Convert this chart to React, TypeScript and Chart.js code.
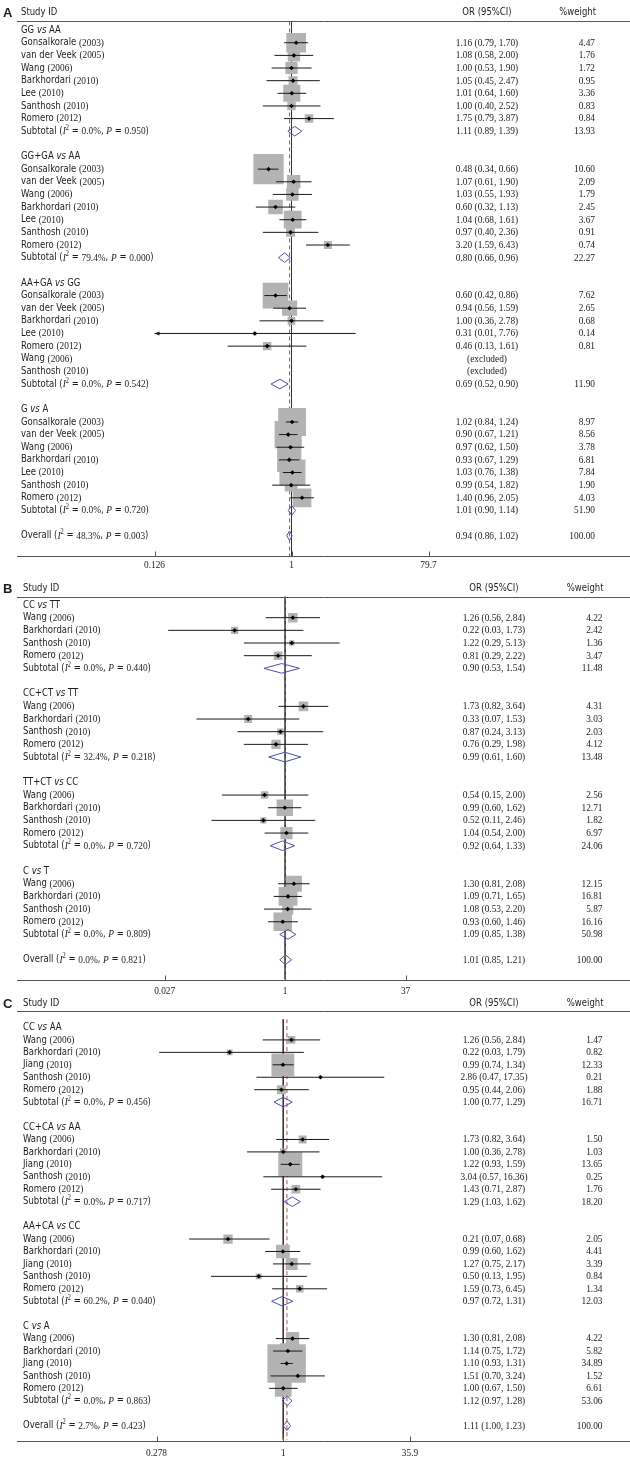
import React, { useEffect, useRef } from 'react';
import { Chart, registerables } from 'chart.js';

Chart.register(...registerables);

// ================= DATA: panel A =================
const A_SECTIONS = [['GG', 'AA'], ['GG+GA', 'AA'], ['AA+GA', 'GG'], ['G', 'A']];
const A_STUDIES = [
  ['Gonsalkorale (2003)', 'van der Veek (2005)', 'Wang (2006)', 'Barkhordari (2010)', 'Lee (2010)', 'Santhosh (2010)', 'Romero (2012)'],
  ['Gonsalkorale (2003)', 'van der Veek (2005)', 'Wang (2006)', 'Barkhordari (2010)', 'Lee (2010)', 'Santhosh (2010)', 'Romero (2012)'],
  ['Gonsalkorale (2003)', 'van der Veek (2005)', 'Barkhordari (2010)', 'Lee (2010)', 'Romero (2012)', 'Wang (2006)', 'Santhosh (2010)'],
  ['Gonsalkorale (2003)', 'van der Veek (2005)', 'Wang (2006)', 'Barkhordari (2010)', 'Lee (2010)', 'Santhosh (2010)', 'Romero (2012)'],
];
const A_OR = [
  [1.16, 1.08, 1.0, 1.05, 1.01, 1.0, 1.75],
  [0.48, 1.07, 1.03, 0.6, 1.04, 0.97, 3.2],
  [0.6, 0.94, 1.0, 0.31, 0.46, null, null],
  [1.02, 0.9, 0.97, 0.93, 1.03, 0.99, 1.4],
];
const A_LO = [
  [0.79, 0.58, 0.53, 0.45, 0.64, 0.4, 0.79],
  [0.34, 0.61, 0.55, 0.32, 0.68, 0.4, 1.59],
  [0.42, 0.56, 0.36, 0.01, 0.13, null, null],
  [0.84, 0.67, 0.62, 0.67, 0.76, 0.54, 0.96],
];
const A_HI = [
  [1.7, 2.0, 1.9, 2.47, 1.6, 2.52, 3.87],
  [0.66, 1.9, 1.93, 1.13, 1.61, 2.36, 6.43],
  [0.86, 1.59, 2.78, 7.76, 1.61, null, null],
  [1.24, 1.21, 1.5, 1.29, 1.38, 1.82, 2.05],
];
const A_WEIGHT = [
  [4.47, 1.76, 1.72, 0.95, 3.36, 0.83, 0.84],
  [10.6, 2.09, 1.79, 2.45, 3.67, 0.91, 0.74],
  [7.62, 2.65, 0.68, 0.14, 0.81, null, null],
  [8.97, 8.56, 3.78, 6.81, 7.84, 1.9, 4.03],
];
const A_SUB_OR = [1.11, 0.8, 0.69, 1.01];
const A_SUB_LO = [0.89, 0.66, 0.52, 0.9];
const A_SUB_HI = [1.39, 0.96, 0.9, 1.14];
const A_SUB_WEIGHT = [13.93, 22.27, 11.9, 51.9];
const A_SUB_I2 = ['0.0%', '79.4%', '0.0%', '0.0%'];
const A_SUB_P = ['0.950', '0.000', '0.542', '0.720'];
const A_OVERALL = [0.94, 0.86, 1.02];
const A_OVERALL_WEIGHT = 100;
const A_OVERALL_I2 = '48.3%';
const A_OVERALL_P = '0.003';
const A_TICKS = [1 / 79.7, 1, 79.7];
const A_TICK_LABELS = ['0.126', '1', '79.7'];

// ================= DATA: panel B =================
const B_SECTIONS = [['CC', 'TT'], ['CC+CT', 'TT'], ['TT+CT', 'CC'], ['C', 'T']];
const B_NAMES = ['Wang (2006)', 'Barkhordari (2010)', 'Santhosh (2010)', 'Romero (2012)'];
const B_STUDIES = [B_NAMES, B_NAMES, B_NAMES, B_NAMES];
const B_OR = [
  [1.26, 0.22, 1.22, 0.81],
  [1.73, 0.33, 0.87, 0.76],
  [0.54, 0.99, 0.52, 1.04],
  [1.3, 1.09, 1.08, 0.93],
];
const B_LO = [
  [0.56, 0.03, 0.29, 0.29],
  [0.82, 0.07, 0.24, 0.29],
  [0.15, 0.6, 0.11, 0.54],
  [0.81, 0.71, 0.53, 0.6],
];
const B_HI = [
  [2.84, 1.73, 5.13, 2.22],
  [3.64, 1.53, 3.13, 1.98],
  [2.0, 1.62, 2.46, 2.0],
  [2.08, 1.65, 2.2, 1.46],
];
const B_WEIGHT = [
  [4.22, 2.42, 1.36, 3.47],
  [4.31, 3.03, 2.03, 4.12],
  [2.56, 12.71, 1.82, 6.97],
  [12.15, 16.81, 5.87, 16.16],
];
const B_SUB_OR = [0.9, 0.99, 0.92, 1.09];
const B_SUB_LO = [0.53, 0.61, 0.64, 0.85];
const B_SUB_HI = [1.54, 1.6, 1.33, 1.38];
const B_SUB_WEIGHT = [11.48, 13.48, 24.06, 50.98];
const B_SUB_I2 = ['0.0%', '32.4%', '0.0%', '0.0%'];
const B_SUB_P = ['0.440', '0.218', '0.720', '0.809'];
const B_OVERALL = [1.01, 0.85, 1.21];
const B_OVERALL_WEIGHT = 100;
const B_OVERALL_I2 = '0.0%';
const B_OVERALL_P = '0.821';
const B_TICKS = [1 / 37, 1, 37];
const B_TICK_LABELS = ['0.027', '1', '37'];

// ================= DATA: panel C =================
const C_SECTIONS = [['CC', 'AA'], ['CC+CA', 'AA'], ['AA+CA', 'CC'], ['C', 'A']];
const C_NAMES = ['Wang (2006)', 'Barkhordari (2010)', 'Jiang (2010)', 'Santhosh (2010)', 'Romero (2012)'];
const C_STUDIES = [C_NAMES, C_NAMES, C_NAMES, C_NAMES];
const C_OR = [
  [1.26, 0.22, 0.99, 2.86, 0.95],
  [1.73, 1.0, 1.22, 3.04, 1.43],
  [0.21, 0.99, 1.27, 0.5, 1.59],
  [1.3, 1.14, 1.1, 1.51, 1.0],
];
const C_LO = [
  [0.56, 0.03, 0.74, 0.47, 0.44],
  [0.82, 0.36, 0.93, 0.57, 0.71],
  [0.07, 0.6, 0.75, 0.13, 0.73],
  [0.81, 0.75, 0.93, 0.7, 0.67],
];
const C_HI = [
  [2.84, 1.79, 1.34, 17.35, 2.06],
  [3.64, 2.78, 1.59, 16.36, 2.87],
  [0.68, 1.62, 2.17, 1.95, 3.45],
  [2.08, 1.72, 1.31, 3.24, 1.5],
];
const C_WEIGHT = [
  [1.47, 0.82, 12.33, 0.21, 1.88],
  [1.5, 1.03, 13.65, 0.25, 1.76],
  [2.05, 4.41, 3.39, 0.84, 1.34],
  [4.22, 5.82, 34.89, 1.52, 6.61],
];
const C_SUB_OR = [1.0, 1.29, 0.97, 1.12];
const C_SUB_LO = [0.77, 1.03, 0.72, 0.97];
const C_SUB_HI = [1.29, 1.62, 1.31, 1.28];
const C_SUB_WEIGHT = [16.71, 18.2, 12.03, 53.06];
const C_SUB_I2 = ['0.0%', '0.0%', '60.2%', '0.0%'];
const C_SUB_P = ['0.456', '0.717', '0.040', '0.863'];
const C_OVERALL = [1.11, 1.0, 1.23];
const C_OVERALL_WEIGHT = 100;
const C_OVERALL_I2 = '2.7%';
const C_OVERALL_P = '0.423';
const C_TICKS = [1 / 35.9, 1, 35.9];
const C_TICK_LABELS = ['0.278', '1', '35.9'];
// text printed in the source table where it differs from the drawn interval
const C_PRINTED_CI: Record<string, string> = { '2,4': '1.59 (0.73, 6.45)' };

// ================= assembled panel tables =================
const PANEL_DATA = [
  {
    letter: 'A', sections: A_SECTIONS, studies: A_STUDIES, or: A_OR, lo: A_LO, hi: A_HI, weight: A_WEIGHT,
    subOr: A_SUB_OR, subLo: A_SUB_LO, subHi: A_SUB_HI, subWeight: A_SUB_WEIGHT, subI2: A_SUB_I2, subP: A_SUB_P,
    overall: A_OVERALL, overallWeight: A_OVERALL_WEIGHT, overallI2: A_OVERALL_I2, overallP: A_OVERALL_P,
    ticks: A_TICKS, tickLabels: A_TICK_LABELS, printed: {} as Record<string, string>,
  },
  {
    letter: 'B', sections: B_SECTIONS, studies: B_STUDIES, or: B_OR, lo: B_LO, hi: B_HI, weight: B_WEIGHT,
    subOr: B_SUB_OR, subLo: B_SUB_LO, subHi: B_SUB_HI, subWeight: B_SUB_WEIGHT, subI2: B_SUB_I2, subP: B_SUB_P,
    overall: B_OVERALL, overallWeight: B_OVERALL_WEIGHT, overallI2: B_OVERALL_I2, overallP: B_OVERALL_P,
    ticks: B_TICKS, tickLabels: B_TICK_LABELS, printed: {} as Record<string, string>,
  },
  {
    letter: 'C', sections: C_SECTIONS, studies: C_STUDIES, or: C_OR, lo: C_LO, hi: C_HI, weight: C_WEIGHT,
    subOr: C_SUB_OR, subLo: C_SUB_LO, subHi: C_SUB_HI, subWeight: C_SUB_WEIGHT, subI2: C_SUB_I2, subP: C_SUB_P,
    overall: C_OVERALL, overallWeight: C_OVERALL_WEIGHT, overallI2: C_OVERALL_I2, overallP: C_OVERALL_P,
    ticks: C_TICKS, tickLabels: C_TICK_LABELS, printed: C_PRINTED_CI,
  },
];

// ================= layout / style =================
const LAYOUT = [
  { top: 0, height: 580, headerY: 12.7, lineY: 21, row0: 29.7, rowH: 12.65, axisY: 556, labelY: 565.5,
    plotL: 154.5, plotR: 428.5, labelX: 21, orX: 487, wtX: 595, boxK: 9.3 },
  { top: 570, height: 432, headerY: 588.5, lineY: 596.5, row0: 605, rowH: 12.67, axisY: 979.5, labelY: 991.5,
    plotL: 164.7, plotR: 405.6, labelX: 23, orX: 494, wtX: 602.5, boxK: 4.6 },
  { top: 992, height: 475, headerY: 1003.5, lineY: 1011, row0: 1019.5, rowH: 12.72, axisY: 1441, labelY: 1453.5,
    plotL: 156.5, plotR: 410, labelX: 23, orX: 494, wtX: 602.5, boxK: 6.5 },
];

const W = 630;
const SX = 0.85;
const SANS = '"DejaVu Sans", sans-serif';
const SERIF = '"Liberation Serif", serif';
const F_SANS = `10px ${SANS}`;
const F_SANS_IT = `italic 10px ${SANS}`;
const F_SERIF = `11px ${SERIF}`;
const F_SERIF_IT = `italic 11px ${SERIF}`;
const F_SUP = `7.5px ${SERIF}`;
const F_LETTER = `bold 13px "Liberation Sans", sans-serif`;
const TEXT = '#1c1c1c';
const RULE = '#555';
const BOX = '#b3b3b3';
const CI = '#1a1a1a';
const DIAMOND = '#4b4fa3';
const DASH = '#a0564f';
const NULL_LINE = '#333';
const DH = 0.38;

type Seg = { t: string; f: string; dy?: number };

function fmt(v: number) {
  return v.toFixed(2);
}

function studySegs(name: string): Seg[] {
  const k = name.lastIndexOf(' (');
  return [{ t: name.slice(0, k + 1), f: F_SANS }, { t: name.slice(k + 1), f: F_SERIF }];
}

function statSegs(prefix: string, i2: string, p: string): Seg[] {
  return [
    { t: prefix + ' (', f: F_SANS },
    { t: 'I', f: F_SERIF_IT },
    { t: '2', f: F_SUP, dy: -3.5 },
    { t: ' = ', f: F_SANS },
    { t: i2, f: F_SERIF },
    { t: ', ', f: F_SANS },
    { t: 'P', f: F_SERIF_IT },
    { t: ' = ', f: F_SANS },
    { t: p, f: F_SERIF },
    { t: ')', f: F_SANS },
  ];
}

function drawSegs(ctx: CanvasRenderingContext2D, segs: Seg[], x: number, y: number, align: string, sx: number) {
  let w = 0;
  for (const s of segs) {
    ctx.font = s.f;
    w += ctx.measureText(s.t).width;
  }
  let cx = align === 'left' ? 0 : align === 'center' ? -w / 2 : -w;
  ctx.save();
  ctx.translate(x, y);
  ctx.scale(sx, 1);
  ctx.textBaseline = 'middle';
  ctx.textAlign = 'left';
  for (const s of segs) {
    ctx.font = s.f;
    ctx.fillText(s.t, cx, s.dy || 0);
    cx += ctx.measureText(s.t).width;
  }
  ctx.restore();
}

type Row = {
  kind: string;
  segs?: Seg[];
  or?: number;
  lo?: number;
  hi?: number;
  w?: number;
  ciText?: string;
  wtText?: string;
};

function buildRows(d: any): Row[] {
  const rows: Row[] = [];
  d.sections.forEach((sec: string[], g: number) => {
    rows.push({
      kind: 'section',
      segs: [{ t: sec[0] + ' ', f: F_SANS }, { t: 'vs', f: F_SANS_IT }, { t: ' ' + sec[1], f: F_SANS }],
    });
    d.studies[g].forEach((name: string, s: number) => {
      const or = d.or[g][s];
      if (or == null) {
        rows.push({ kind: 'excluded', segs: studySegs(name), ciText: '(excluded)', wtText: '' });
        return;
      }
      const lo = d.lo[g][s];
      const hi = d.hi[g][s];
      const key = g + ',' + s;
      const ciText = d.printed[key] ? d.printed[key] : `${fmt(or)} (${fmt(lo)}, ${fmt(hi)})`;
      rows.push({ kind: 'study', segs: studySegs(name), or, lo, hi, w: d.weight[g][s], ciText, wtText: fmt(d.weight[g][s]) });
    });
    rows.push({
      kind: 'subtotal',
      segs: statSegs('Subtotal', d.subI2[g], d.subP[g]),
      or: d.subOr[g], lo: d.subLo[g], hi: d.subHi[g], w: d.subWeight[g],
      ciText: `${fmt(d.subOr[g])} (${fmt(d.subLo[g])}, ${fmt(d.subHi[g])})`,
      wtText: fmt(d.subWeight[g]),
    });
    rows.push({ kind: 'blank' });
  });
  rows.push({
    kind: 'overall',
    segs: statSegs('Overall', d.overallI2, d.overallP),
    or: d.overall[0], lo: d.overall[1], hi: d.overall[2], w: d.overallWeight,
    ciText: `${fmt(d.overall[0])} (${fmt(d.overall[1])}, ${fmt(d.overall[2])})`,
    wtText: fmt(d.overallWeight),
  });
  return rows;
}

function ForestPanel({ d, L }: { d: any; L: any }) {
  const ref = useRef<HTMLCanvasElement | null>(null);

  useEffect(() => {
    const canvas = ref.current;
    if (!canvas) return;
    const rows = buildRows(d);
    const yMin = -(L.row0 - L.lineY) / L.rowH;
    const yMax = (L.axisY - L.row0) / L.rowH;
    const xMin = d.ticks[0];
    const xMax = d.ticks[d.ticks.length - 1];

    const boxes: any[] = [];
    const radii: number[] = [];
    const pts: any[] = [];
    const ci: any[] = [];
    const dia: any[] = [];
    rows.forEach((r, i) => {
      if (r.kind === 'study') {
        boxes.push({ x: r.or, y: i });
        radii.push((L.boxK * Math.sqrt(r.w as number)) / Math.SQRT2);
        pts.push({ x: r.or, y: i });
        ci.push({ x: r.lo, y: i }, { x: r.hi, y: i }, { x: null, y: null });
      } else if (r.kind === 'subtotal' || r.kind === 'overall') {
        dia.push(
          { x: r.lo, y: i }, { x: r.or, y: i - DH }, { x: r.hi, y: i }, { x: r.or, y: i + DH }, { x: r.lo, y: i },
          { x: null, y: null },
        );
      }
    });
    const overallOr = d.overall[0];

    const top = L.top;
    const textPlugin = {
      id: 'forestText',
      afterDraw(chart: any) {
        const ctx: CanvasRenderingContext2D = chart.ctx;
        const xs = chart.scales.x;
        const ys = chart.scales.y;
        const area = chart.chartArea;
        ctx.save();
        // rules
        ctx.strokeStyle = RULE;
        ctx.lineWidth = 1;
        const hl = Math.round(L.lineY - top) + 0.5;
        const al = Math.round(L.axisY - top) + 0.5;
        ctx.beginPath();
        ctx.moveTo(17, hl);
        ctx.lineTo(W, hl);
        ctx.moveTo(17, al);
        ctx.lineTo(W, al);
        d.ticks.forEach((t: number) => {
          const px = Math.round(xs.getPixelForValue(t)) + 0.5;
          ctx.moveTo(px, al);
          ctx.lineTo(px, al - 5);
        });
        ctx.stroke();

        ctx.fillStyle = TEXT;
        // tick labels
        d.ticks.forEach((t: number, k: number) => {
          drawSegs(ctx, [{ t: d.tickLabels[k], f: F_SERIF }], xs.getPixelForValue(t), L.labelY - top, 'center', SX);
        });
        // header
        ctx.font = F_LETTER;
        ctx.textBaseline = 'middle';
        ctx.textAlign = 'left';
        ctx.fillText(d.letter, 3, L.headerY - top + 0.5);
        drawSegs(ctx, [{ t: 'Study ID', f: F_SANS }], L.labelX, L.headerY - top, 'left', SX);
        drawSegs(ctx, [{ t: 'OR (95%CI)', f: F_SANS }], L.orX, L.headerY - top, 'center', SX);
        drawSegs(ctx, [{ t: '%weight', f: F_SANS }], L.wtX + 1, L.headerY - top, 'right', SX);

        rows.forEach((r, i) => {
          if (r.kind === 'blank') return;
          const y = ys.getPixelForValue(i);
          drawSegs(ctx, r.segs as Seg[], L.labelX, y, 'left', SX);
          if (r.ciText) drawSegs(ctx, [{ t: r.ciText, f: F_SERIF }], L.orX, y, 'center', SX);
          if (r.wtText) drawSegs(ctx, [{ t: r.wtText, f: F_SERIF }], L.wtX, y, 'right', SX);
          // arrows where the interval runs past the axis range
          if (r.kind === 'study') {
            ctx.fillStyle = CI;
            if ((r.lo as number) < xMin) {
              ctx.beginPath();
              ctx.moveTo(area.left, y);
              ctx.lineTo(area.left + 5, y - 2);
              ctx.lineTo(area.left + 5, y + 2);
              ctx.closePath();
              ctx.fill();
            }
            if ((r.hi as number) > xMax) {
              ctx.beginPath();
              ctx.moveTo(area.right, y);
              ctx.lineTo(area.right - 5, y - 2);
              ctx.lineTo(area.right - 5, y + 2);
              ctx.closePath();
              ctx.fill();
            }
            ctx.fillStyle = TEXT;
          }
        });
        ctx.restore();
      },
    };

    const chart = new Chart(canvas, {
      type: 'scatter',
      data: {
        datasets: [
          {
            label: 'estimate',
            data: pts,
            pointStyle: 'rectRot',
            pointRadius: 2.3,
            backgroundColor: '#000',
            borderWidth: 0,
          },
          {
            label: 'ci',
            data: ci,
            showLine: true,
            spanGaps: false,
            pointRadius: 0,
            borderColor: CI,
            borderWidth: 1,
          },
          {
            label: 'pooled',
            data: dia,
            showLine: true,
            spanGaps: false,
            pointRadius: 0,
            borderColor: DIAMOND,
            borderWidth: 1,
          },
          {
            label: 'weight box',
            data: boxes,
            pointStyle: 'rect',
            pointRadius: radii,
            backgroundColor: BOX,
            borderWidth: 0,
          },
          {
            label: 'overall line',
            data: [{ x: overallOr, y: yMin }, { x: overallOr, y: yMax }],
            showLine: true,
            pointRadius: 0,
            borderColor: DASH,
            borderWidth: 1,
            borderDash: [4, 3],
          },
          {
            label: 'null line',
            data: [{ x: 1, y: yMin }, { x: 1, y: yMax }],
            showLine: true,
            pointRadius: 0,
            borderColor: NULL_LINE,
            borderWidth: 1,
          },
        ] as any,
      },
      options: {
        animation: false,
        responsive: false,
        devicePixelRatio: 1,
        events: [],
        layout: {
          padding: { left: L.plotL, right: W - L.plotR, top: L.lineY - top, bottom: L.height - (L.axisY - top) },
        },
        plugins: { legend: { display: false }, tooltip: { enabled: false } },
        scales: {
          x: { type: 'logarithmic', min: xMin, max: xMax, display: false, bounds: 'data' },
          y: { type: 'linear', min: yMin, max: yMax, reverse: true, display: false, bounds: 'data' },
        },
      } as any,
      plugins: [textPlugin],
    });
    return () => chart.destroy();
  }, [d, L]);

  return (
    <canvas
      ref={ref}
      width={W}
      height={L.height}
      style={{ position: 'absolute', left: 0, top: L.top, width: W, height: L.height }}
    />
  );
}

export default function App() {
  return (
    <div style={{ position: 'absolute', left: 0, top: 0, width: W, height: 1467, background: '#fff', overflow: 'hidden' }}>
      {PANEL_DATA.map((d, k) => (
        <ForestPanel key={d.letter} d={d} L={LAYOUT[k]} />
      ))}
    </div>
  );
}
